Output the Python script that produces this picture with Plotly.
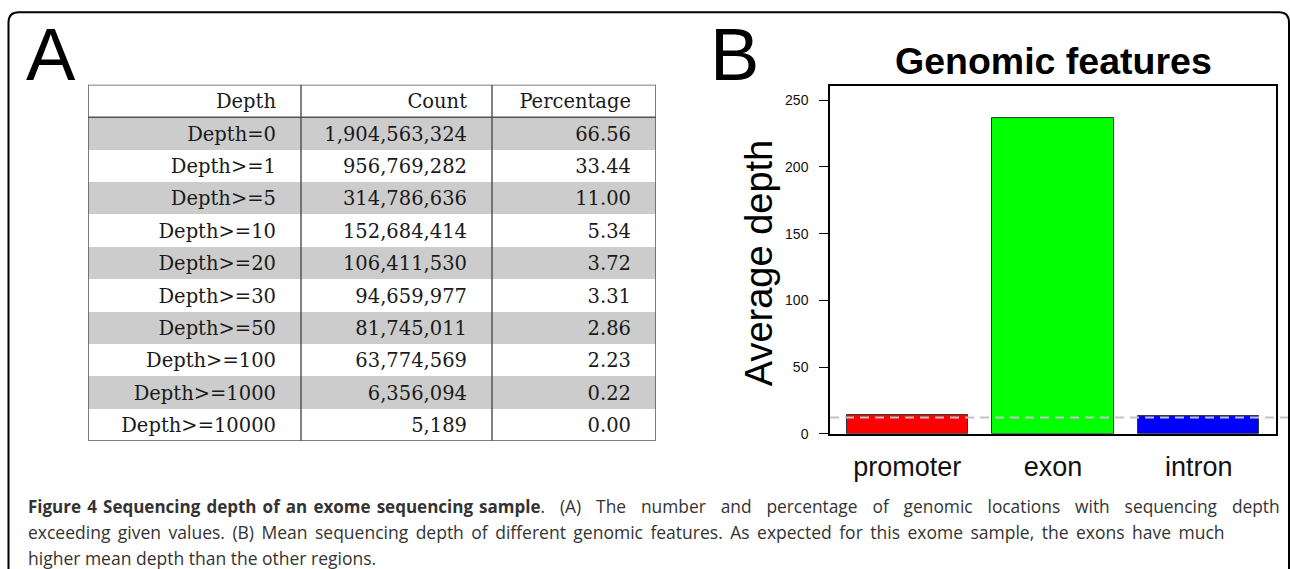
import plotly.graph_objects as go

W, H = 1290, 569

# ---------------- data ----------------
depth_labels = ["Depth=0", "Depth>=1", "Depth>=5", "Depth>=10", "Depth>=20",
                "Depth>=30", "Depth>=50", "Depth>=100", "Depth>=1000", "Depth>=10000"]
counts = [1904563324, 956769282, 314786636, 152684414, 106411530,
          94659977, 81745011, 63774569, 6356094, 5189]
percentages = [66.56, 33.44, 11.00, 5.34, 3.72, 3.31, 2.86, 2.23, 0.22, 0.00]
table_header = ["Depth", "Count", "Percentage"]

features = ["promoter", "exon", "intron"]
avg_depth = [13.8, 236.5, 13.3]
feature_colors = ["#ff0000", "#00ff00", "#0000ff"]
genome_mean_depth = 12.3
y_ticks = [0, 50, 100, 150, 200, 250]

caption_bold = "Figure 4 Sequencing depth of an exome sequencing sample"
caption_lines = [
    ". (A) The number and percentage of genomic locations with sequencing depth",
    "exceeding given values. (B) Mean sequencing depth of different genomic features. "
    "As expected for this exome sample, the exons have much",
    "higher mean depth than the other regions.",
]


def px(xp):
    return xp / W


def py(yp):
    return 1 - yp / H


fig = go.Figure()

# ---------------- table (panel A) ----------------
col_edges = [0, 213, 404, 568]
pad = 25
text_shift = 0.08
n_rows = len(depth_labels)
row_centers = [i + 1.5 for i in range(n_rows)]
gray_rows = [row_centers[i] for i in range(n_rows) if i % 2 == 0]

fig.add_trace(go.Bar(
    orientation="h", y=gray_rows, x=[col_edges[-1]] * len(gray_rows), base=0,
    width=1, marker=dict(color="#cccccc", line=dict(width=0)),
    xaxis="x2", yaxis="y2", showlegend=False, hoverinfo="skip"))

cols = [depth_labels,
        [f"{c:,}" for c in counts],
        [f"{p:.2f}" for p in percentages]]
for j in range(3):
    xs = [col_edges[j + 1] - pad] * (n_rows + 1)
    ys = [r + text_shift for r in [0.5] + row_centers]
    txt = [table_header[j]] + cols[j]
    fig.add_trace(go.Scatter(
        x=xs, y=ys, text=txt, mode="text", textposition="middle left",
        textfont=dict(family="DejaVu Serif", size=19.5, color="#1a1a1a"),
        xaxis="x2", yaxis="y2", showlegend=False, hoverinfo="skip"))

tbl_line = dict(color="#555555", width=1.5)
fig.add_shape(type="rect", xref="x2", yref="y2", x0=col_edges[0], x1=col_edges[-1],
              y0=0, y1=n_rows + 1, line=tbl_line)
for e in col_edges[1:-1]:
    fig.add_shape(type="line", xref="x2", yref="y2", x0=e, x1=e, y0=0, y1=n_rows + 1,
                  line=tbl_line)
fig.add_shape(type="line", xref="x2", yref="y2", x0=col_edges[0], x1=col_edges[-1],
              y0=1, y1=1, line=tbl_line)

# ---------------- bar chart (panel B) ----------------
bar_pos = [0.5 + 1.2 * i for i in range(len(features))]
fig.add_trace(go.Bar(
    x=bar_pos, y=avg_depth, width=1,
    marker=dict(color=feature_colors, line=dict(color="#333333", width=1)),
    showlegend=False, hoverinfo="skip"))

fig.add_shape(type="line", xref="paper", yref="y", x0=px(830), x1=px(1288),
              y0=genome_mean_depth, y1=genome_mean_depth,
              line=dict(color="#c4c4c4", width=2, dash="9px,6px"), layer="above")


# outer rounded frame
def P(x, y):
    return f"{px(x):.5f},{py(y):.5f}"


frame = (f"M {P(8.5, 600)} L {P(8.5, 23)} Q {P(8.5, 12.5)} {P(19, 12.5)} "
         f"L {P(1279, 12.5)} Q {P(1289, 12.5)} {P(1289, 23)} L {P(1289, 600)}")
fig.add_shape(type="path", xref="paper", yref="paper", path=frame,
              line=dict(color="#000000", width=2))


# justified caption: widen inter-word gaps with unicode spaces
def justify(s, extra):
    return s.replace(" ", " " + extra)


SP_EN = "\u2002"
SP_HAIR = "\u200a"
SP_6PEREM = "\u2006"
cap1 = ('<span style="font-size:17px"><b>' + justify(caption_bold, SP_HAIR) + "</b></span>"
        + justify(caption_lines[0], SP_EN + SP_HAIR))
cap2 = justify(caption_lines[1], SP_6PEREM)
cap3 = caption_lines[2]

cap_font = dict(family="Open Sans", size=17.5, color="#333")
annotations = [
    dict(text="A", x=px(24), y=py(55), xanchor="left", yanchor="middle",
         font=dict(family="Liberation Sans Narrow, Liberation Sans", size=74, color="#000")),
    dict(text="B", x=px(708), y=py(55), xanchor="left", yanchor="middle",
         font=dict(family="Liberation Sans Narrow, Liberation Sans", size=74, color="#000")),
    dict(text="<b>Genomic features</b>", x=px(1053), y=py(62), xanchor="center", yanchor="middle",
         font=dict(family="Liberation Sans", size=37.5, color="#000")),
    dict(text="Average depth", x=px(759), y=py(267), xanchor="center", yanchor="middle",
         textangle=-90, font=dict(family="Liberation Sans", size=38, color="#000")),
    dict(text=cap1, x=px(26), y=py(513), xanchor="left", yanchor="middle",
         font=dict(family="Open Sans", size=17.35, color="#333")),
    dict(text=cap2, x=px(26), y=py(539.5), xanchor="left", yanchor="middle", font=cap_font),
    dict(text=cap3, x=px(26), y=py(566), xanchor="left", yanchor="middle", font=cap_font),
]
for a in annotations:
    a.update(xref="paper", yref="paper", showarrow=False)

fig.update_layout(
    width=W, height=H, margin=dict(l=0, r=0, t=0, b=0),
    paper_bgcolor="white", plot_bgcolor="white",
    annotations=annotations,
    xaxis=dict(domain=[px(830), px(1276)], range=[-0.136, 3.536],
               tickvals=bar_pos, ticktext=features, ticks="", showgrid=False, zeroline=False,
               showline=True, mirror=True, linecolor="#000", linewidth=1.5,
               ticklabelstandoff=8,
               tickfont=dict(family="Liberation Sans", size=27, color="#111")),
    yaxis=dict(domain=[py(440), py(87.3)], range=[0, 260.6], tickvals=y_ticks,
               ticks="outside", ticklen=9, tickwidth=1, tickcolor="#000",
               showgrid=False, zeroline=False, showline=True, mirror=True,
               linecolor="#000", linewidth=1.5, ticklabelstandoff=8,
               tickfont=dict(family="Liberation Sans", size=14, color="#111")),
    xaxis2=dict(domain=[px(88), px(656)], range=[col_edges[0], col_edges[-1]], visible=False,
                anchor="y2"),
    yaxis2=dict(domain=[py(447), py(86)], range=[n_rows + 1, 0], visible=False, anchor="x2"),
    bargap=0,
)

fig.write_html("out.html")
